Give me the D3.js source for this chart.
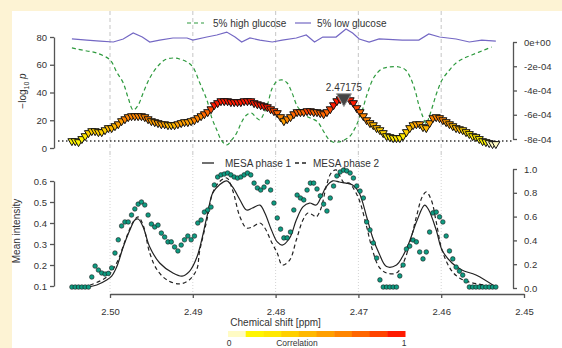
<!DOCTYPE html>
<html>
<head>
<meta charset="utf-8">
<script src="https://cdn.jsdelivr.net/npm/d3@7"></script>
<style>
  html, body { margin: 0; padding: 0; background: #fdf3d4; }
  svg { display: block; font-family: "Liberation Sans", Arial, sans-serif; }
  .tick text { fill: #333; font-size: 9.5px; }
</style>
</head>
<body>
<svg id="chart" width="562" height="348"></svg>
<script>
// spectrum samples, one every 0.0004 ppm
const ppmGrid = d3.range(129).map(i => 2.5046 - i * 0.0004);

// -log10 p for each sample (top panel triangles)
const logP = [
  4.3, 4.3, 3.6, 5.8, 7.9, 10.1, 11.5, 11.5, 10.8, 10.8,
  12.2, 13.7, 13.7, 15.1, 16.5, 18.7, 20.1, 21.6, 22.3, 22.3,
  22.3, 22.3, 21.6, 20.1, 18.7, 18.0, 17.3, 16.5, 16.5, 15.8,
  15.8, 15.8, 16.5, 17.3, 18.0, 18.0, 18.7, 19.4, 20.9, 22.3,
  23.7, 25.2, 27.3, 30.2, 31.7, 33.1, 33.1, 33.1, 32.4, 32.4,
  32.4, 32.4, 33.1, 33.1, 33.1, 31.7, 30.9, 30.2, 29.5, 28.8,
  27.3, 25.9, 24.5, 21.6, 18.7, 20.1, 21.6, 23.7, 25.2, 25.2,
  25.2, 25.9, 25.9, 25.2, 25.2, 24.5, 23.7, 25.2, 27.3, 30.2,
  33.1, 34.5, 35.3, 36.0, 33.8, 31.7, 28.1, 25.2, 22.3, 19.4,
  17.3, 15.8, 13.7, 12.2, 10.1, 7.9, 7.2, 6.5, 6.5, 6.5,
  7.9, 10.8, 13.7, 15.8, 16.5, 16.5, 14.4, 13.7, 17.3, 20.9,
  21.6, 20.9, 19.4, 18.0, 16.5, 15.1, 13.7, 12.9, 12.2, 10.8,
  9.4, 7.9, 7.2, 5.8, 4.3, 3.6, 2.9, 2.2, 2.2
];

// mean intensity for each sample (bottom panel points)
const meanIntensity = [
  0.095, 0.095, 0.095, 0.095, 0.095, 0.095, 0.143, 0.195, 0.176, 0.162,
  0.157, 0.160, 0.186, 0.257, 0.320, 0.386, 0.405, 0.405, 0.438, 0.467,
  0.490, 0.500, 0.486, 0.438, 0.395, 0.381, 0.390, 0.352, 0.333, 0.310,
  0.310, 0.286, 0.267, 0.295, 0.320, 0.338, 0.320, 0.338, 0.400, 0.414,
  0.452, 0.462, 0.476, 0.581, 0.619, 0.629, 0.633, 0.638, 0.629, 0.619,
  0.614, 0.619, 0.629, 0.638, 0.629, 0.590, 0.567, 0.557, 0.571, 0.595,
  0.557, 0.495, 0.424, 0.371, 0.329, 0.329, 0.357, 0.462, 0.533, 0.519,
  0.510, 0.557, 0.590, 0.590, 0.562, 0.529, 0.490, 0.457, 0.519, 0.576,
  0.624, 0.643, 0.652, 0.648, 0.638, 0.614, 0.576, 0.552, 0.519, 0.405,
  0.367, 0.305, 0.233, 0.129, 0.095, 0.095, 0.095, 0.095, 0.095, 0.148,
  0.200, 0.276, 0.290, 0.319, 0.310, 0.262, 0.229, 0.262, 0.357, 0.448,
  0.452, 0.429, 0.405, 0.338, 0.267, 0.229, 0.190, 0.171, 0.152, 0.124,
  0.095, 0.095, 0.095, 0.095, 0.095, 0.095, 0.095, 0.095, 0.095
];

// 5% high glucose coefficient (right axis, top)
const highPpm = [2.5046, 2.5040, 2.5028, 2.5016, 2.5000, 2.4992, 2.4984, 2.4978, 2.4972, 2.4966,
  2.4960, 2.4952, 2.4943, 2.4934, 2.4924, 2.4916, 2.4907, 2.4900, 2.4892, 2.4883,
  2.4877, 2.4871, 2.4865, 2.4859, 2.4853, 2.4847, 2.4841, 2.4835, 2.4829, 2.4824,
  2.4819, 2.4815, 2.4810, 2.4804, 2.4798, 2.4792, 2.4786, 2.4780, 2.4774, 2.4768,
  2.4761, 2.4755, 2.4749, 2.4743, 2.4737, 2.4731, 2.4724, 2.4717, 2.4710, 2.4704,
  2.4696, 2.4689, 2.4681, 2.4672, 2.4663, 2.4651, 2.4643, 2.4637, 2.4631, 2.4627,
  2.4622, 2.4618, 2.4615, 2.4610, 2.4605, 2.4599, 2.4590, 2.4582, 2.4572, 2.4563,
  2.4551, 2.4539];
const highGlucose = [-0.49e-4, -0.58e-4, -0.74e-4, -0.91e-4, -1.48e-4, -2.47e-4, -3.38e-4, -4.62e-4, -5.61e-4, -5.20e-4,
  -4.21e-4, -2.97e-4, -2.06e-4, -1.48e-4, -1.32e-4, -1.40e-4, -1.65e-4, -2.06e-4, -3.30e-4, -4.78e-4,
  -6.27e-4, -7.26e-4, -8.16e-4, -8.49e-4, -8.08e-4, -7.50e-4, -6.60e-4, -6.02e-4, -5.86e-4, -6.19e-4,
  -6.43e-4, -6.02e-4, -5.20e-4, -3.79e-4, -3.22e-4, -3.13e-4, -3.38e-4, -4.21e-4, -5.28e-4, -5.77e-4,
  -6.19e-4, -6.35e-4, -6.60e-4, -7.26e-4, -7.92e-4, -8.25e-4, -8.25e-4, -8.08e-4, -7.75e-4, -7.09e-4,
  -5.77e-4, -4.21e-4, -2.89e-4, -2.23e-4, -2.06e-4, -2.06e-4, -2.31e-4, -2.97e-4, -4.12e-4, -5.20e-4,
  -6.19e-4, -6.76e-4, -6.27e-4, -5.20e-4, -4.12e-4, -3.13e-4, -2.31e-4, -1.73e-4, -1.32e-4, -1.07e-4,
  -0.74e-4, -0.41e-4];

// 5% low glucose coefficient (right axis, top)
const lowPpm = [2.5046, 2.5028, 2.5012, 2.4996, 2.4984, 2.4972, 2.4961, 2.4952, 2.4940, 2.4924,
  2.4907, 2.4900, 2.4883, 2.4871, 2.4859, 2.4849, 2.4841, 2.4831, 2.4819, 2.4804,
  2.4792, 2.4775, 2.4763, 2.4753, 2.4743, 2.4727, 2.4715, 2.4707, 2.4699, 2.4687,
  2.4675, 2.4647, 2.4627, 2.4615, 2.4602, 2.4582, 2.4566, 2.4551, 2.4534];
const lowGlucose = [0.25e-4, 0.16e-4, 0.08e-4, 0, 0.25e-4, 0.74e-4, 0.41e-4, 0, 0.16e-4, 0.33e-4,
  0.33e-4, 0.16e-4, 0.41e-4, 0.58e-4, 0.82e-4, 0.41e-4, 0, 0.33e-4, 0.16e-4, 0,
  0.16e-4, 0.33e-4, 0.58e-4, 0, 0.41e-4, 0.41e-4, 1.07e-4, 0.74e-4, 0.25e-4, 0,
  0.25e-4, 0.16e-4, 0.16e-4, 0.66e-4, 0.41e-4, 0.25e-4, 0, 0.16e-4, 0.08e-4];

// MESA phase 1 / 2 spectra (right axis, bottom)
const mesa1Ppm = [2.5027, 2.5016, 2.5004, 2.4998, 2.4992, 2.4984, 2.4976, 2.4970, 2.4966, 2.4960,
  2.4952, 2.4940, 2.4924, 2.4913, 2.4904, 2.4895, 2.4883, 2.4876, 2.4868, 2.4859,
  2.4852, 2.4843, 2.4835, 2.4828, 2.4819, 2.4813, 2.4805, 2.4798, 2.4792, 2.4783,
  2.4775, 2.4767, 2.4759, 2.4751, 2.4745, 2.4739, 2.4731, 2.4723, 2.4715, 2.4707,
  2.4699, 2.4690, 2.4683, 2.4675, 2.4666, 2.4654, 2.4647, 2.4639, 2.4629, 2.4620,
  2.4615, 2.4606, 2.4599, 2.4587, 2.4575, 2.4558, 2.4534];
const mesa1 = [0.008, 0.025, 0.067, 0.10, 0.176, 0.345, 0.487, 0.571, 0.58, 0.513,
  0.345, 0.21, 0.126, 0.10, 0.14, 0.26, 0.597, 0.798, 0.866, 0.90,
  0.849, 0.74, 0.655, 0.672, 0.697, 0.63, 0.487, 0.387, 0.361, 0.42,
  0.571, 0.681, 0.714, 0.697, 0.765, 0.849, 0.90, 0.891, 0.882, 0.866,
  0.798, 0.597, 0.429, 0.29, 0.18, 0.193, 0.26, 0.378, 0.571, 0.697,
  0.655, 0.487, 0.319, 0.21, 0.151, 0.109, 0.008];
const mesa2Ppm = [2.5024, 2.5004, 2.4992, 2.4980, 2.4972, 2.4966, 2.4960, 2.4952, 2.4943, 2.4931,
  2.4916, 2.4904, 2.4895, 2.4892, 2.4883, 2.4876, 2.4868, 2.4859, 2.4852, 2.4843,
  2.4835, 2.4828, 2.4819, 2.4813, 2.4805, 2.4798, 2.4792, 2.4783, 2.4775, 2.4767,
  2.4761, 2.4755, 2.4751, 2.4745, 2.4739, 2.4733, 2.4727, 2.4723, 2.4717, 2.4711,
  2.4707, 2.4699, 2.4690, 2.4683, 2.4675, 2.4666, 2.4654, 2.4647, 2.4639, 2.4630,
  2.4623, 2.4618, 2.4612, 2.4606, 2.4599, 2.4588, 2.4578, 2.4566, 2.4534];
const mesa2 = [0.025, 0.092, 0.21, 0.429, 0.555, 0.597, 0.529, 0.294, 0.151, 0.067,
  0.034, 0.07, 0.16, 0.30, 0.571, 0.798, 0.891, 0.924, 0.824, 0.597,
  0.504, 0.513, 0.546, 0.504, 0.387, 0.294, 0.193, 0.235, 0.403, 0.571,
  0.63, 0.613, 0.597, 0.672, 0.849, 0.966, 0.992, 0.95, 0.882, 0.882,
  0.849, 0.74, 0.513, 0.319, 0.176, 0.126, 0.126, 0.193, 0.345, 0.597,
  0.765, 0.807, 0.74, 0.555, 0.319, 0.151, 0.084, 0.05, 0.008];

const xTicks = [2.50, 2.49, 2.48, 2.47, 2.46, 2.45];
const pTicks = [0, 20, 40, 60, 80];
const coefTicks = [0, -2e-4, -4e-4, -6e-4, -8e-4];
const coefLabels = ["0e+00", "-2e-04", "-4e-04", "-6e-04", "-8e-04"];
const meanTicks = [0.1, 0.2, 0.3, 0.4, 0.5, 0.6];
const mesaTicks = [0, 0.2, 0.4, 0.6, 0.8, 1.0];
const corrColors = ["#fffbc4", "#fff500", "#ffe800", "#ffd000", "#ffb800",
                    "#ff9f00", "#ff8500", "#ff6600", "#ff4400", "#ff1a00"];
const peakPpm = 2.47175;
const pThreshold = 5;

const svg = d3.select("#chart");

// white plotting sheet over the cream page
svg.append("rect").attr("x", 12).attr("y", 11).attr("width", 550).attr("height", 337).attr("fill", "#fff");

// scales
const x = d3.scaleLinear().domain([2.50, 2.45]).range([110, 524]);
const yP = d3.scaleLinear().domain([0, 80]).range([148, 37]);
const yCoef = d3.scaleLinear().domain([-8e-4, 0]).range([139, 42]);
const yMean = d3.scaleLinear().domain([0.1, 0.6]).range([286, 181]);
const yMesa = d3.scaleLinear().domain([0, 1]).range([288, 169]);
const color = d3.scaleQuantize().domain([0, 32]).range(corrColors);

// vertical guides
svg.append("g").selectAll("line").data(xTicks.slice(0, 5)).join("line")
    .attr("x1", d => x(d)).attr("x2", d => x(d))
    .attr("y1", 11).attr("y2", 156)
    .attr("stroke", "#cfcfcf").attr("stroke-width", 1.2).attr("stroke-dasharray", "4,3");
svg.append("g").selectAll("line").data(xTicks.slice(0, 5)).join("line")
    .attr("x1", d => x(d)).attr("x2", d => x(d))
    .attr("y1", 156).attr("y2", 292)
    .attr("stroke", "#d4d4d4").attr("stroke-width", 1).attr("stroke-dasharray", "1,2");

function styleAxis(g) {
  g.attr("font-family", null).attr("font-size", null);
  g.selectAll(".domain, .tick line").attr("stroke", "#555").attr("stroke-width", 1.3);
}

// ---------- top panel ----------
svg.append("g").attr("transform", "translate(54,0)")
    .call(d3.axisLeft(yP).tickValues(pTicks).tickSize(4).tickSizeOuter(0).tickPadding(3))
    .call(styleAxis);
svg.append("g").attr("transform", "translate(513,0)")
    .call(d3.axisRight(yCoef).tickValues(coefTicks).tickSize(4).tickSizeOuter(0).tickPadding(7)
      .tickFormat((d, i) => coefLabels[i]))
    .call(styleAxis);

const yLab = svg.append("text")
    .attr("transform", "translate(26,91) rotate(-90)")
    .attr("text-anchor", "middle").attr("fill", "#333").attr("font-size", 10);
yLab.append("tspan").text("\u2212log");
yLab.append("tspan").attr("font-size", 7).attr("dy", 2.5).text("10");
yLab.append("tspan").attr("dy", -2.5).attr("font-style", "italic").text(" p");

// significance threshold
svg.append("line")
    .attr("x1", 58).attr("x2", 513).attr("y1", yP(pThreshold)).attr("y2", yP(pThreshold))
    .attr("stroke", "#333").attr("stroke-width", 1.4).attr("stroke-dasharray", "1.5,2.5");

const lowLine = d3.line().x(d => x(d[0])).y(d => yCoef(d[1]));
const smoothLine = d3.line().x(d => x(d[0])).y(d => yCoef(d[1])).curve(d3.curveCatmullRom);

svg.append("path")
    .datum(d3.zip(lowPpm, lowGlucose))
    .attr("d", lowLine)
    .attr("fill", "none").attr("stroke", "#7468c4").attr("stroke-width", 1.2);

svg.append("path")
    .datum(d3.zip(highPpm, highGlucose))
    .attr("d", smoothLine)
    .attr("fill", "none").attr("stroke", "#2e9a3e").attr("stroke-width", 1.2)
    .attr("stroke-dasharray", "4,3");

// correlation triangles
const tri = d3.symbol().type(d3.symbolTriangle).size(28);
svg.append("g").selectAll("path").data(d3.zip(ppmGrid, logP)).join("path")
    .attr("d", tri)
    .attr("transform", d => `translate(${x(d[0])},${yP(d[1]) - 1}) rotate(180)`)
    .attr("fill", d => color(d[1]))
    .attr("stroke", "#111").attr("stroke-width", 1);

// highlighted peak
const peakIdx = d3.minIndex(ppmGrid, p => Math.abs(p - peakPpm));
svg.append("path")
    .attr("d", d3.symbol().type(d3.symbolTriangle).size(95))
    .attr("transform", `translate(${x(peakPpm)},${yP(logP[peakIdx]) - 1}) rotate(180)`)
    .attr("fill", "#444").attr("stroke", "#999").attr("stroke-width", 1);
svg.append("text")
    .attr("x", x(peakPpm)).attr("y", yP(logP[peakIdx]) - 8)
    .attr("text-anchor", "middle").attr("fill", "#333").attr("font-size", 10)
    .text(peakPpm);

// top legend
svg.append("line").attr("x1", 187).attr("x2", 204).attr("y1", 23).attr("y2", 23)
    .attr("stroke", "#2e9a3e").attr("stroke-width", 1.2).attr("stroke-dasharray", "4,3");
svg.append("text").attr("x", 213).attr("y", 26.5).attr("fill", "#333").attr("font-size", 10)
    .text("5% high glucose");
svg.append("line").attr("x1", 295).attr("x2", 311).attr("y1", 23).attr("y2", 23)
    .attr("stroke", "#7468c4").attr("stroke-width", 1.2);
svg.append("text").attr("x", 317).attr("y", 26.5).attr("fill", "#333").attr("font-size", 10)
    .text("5% low glucose");

// ---------- bottom panel ----------
svg.append("g").attr("transform", "translate(54,0)")
    .call(d3.axisLeft(yMean).tickValues(meanTicks).tickSize(4).tickSizeOuter(0).tickPadding(3)
      .tickFormat(d3.format(".1f")))
    .call(styleAxis);
svg.append("g").attr("transform", "translate(513,0)")
    .call(d3.axisRight(yMesa).tickValues(mesaTicks).tickSize(4).tickSizeOuter(0).tickPadding(7)
      .tickFormat(d3.format(".1f")))
    .call(styleAxis);
svg.append("g").attr("transform", "translate(0,294)")
    .call(d3.axisBottom(x).tickValues(xTicks).tickSize(4).tickSizeOuter(0).tickPadding(10)
      .tickFormat(d3.format(".2f")))
    .call(styleAxis);

svg.append("text")
    .attr("transform", "translate(20,231) rotate(-90)")
    .attr("text-anchor", "middle").attr("fill", "#333").attr("font-size", 10)
    .text("Mean intensity");
svg.append("text")
    .attr("x", x(2.48)).attr("y", 326)
    .attr("text-anchor", "middle").attr("fill", "#333").attr("font-size", 10)
    .text("Chemical shift [ppm]");

const mesaLine = d3.line().x(d => x(d[0])).y(d => yMesa(d[1])).curve(d3.curveCatmullRom);
svg.append("path")
    .datum(d3.zip(mesa1Ppm, mesa1))
    .attr("d", mesaLine)
    .attr("fill", "none").attr("stroke", "#222").attr("stroke-width", 1.2);
svg.append("path")
    .datum(d3.zip(mesa2Ppm, mesa2))
    .attr("d", mesaLine)
    .attr("fill", "none").attr("stroke", "#222").attr("stroke-width", 1.2)
    .attr("stroke-dasharray", "4,3");

svg.append("g").selectAll("circle").data(d3.zip(ppmGrid, meanIntensity)).join("circle")
    .attr("cx", d => x(d[0])).attr("cy", d => yMean(d[1]))
    .attr("r", 2.3)
    .attr("fill", "#0e9c82").attr("stroke", "#1a1a1a").attr("stroke-width", 0.6);

// bottom legend
svg.append("line").attr("x1", 202).attr("x2", 214).attr("y1", 163).attr("y2", 163)
    .attr("stroke", "#222").attr("stroke-width", 1.3);
svg.append("text").attr("x", 225).attr("y", 166.5).attr("fill", "#333").attr("font-size", 10)
    .text("MESA phase 1");
svg.append("line").attr("x1", 295).attr("x2", 309).attr("y1", 163).attr("y2", 163)
    .attr("stroke", "#222").attr("stroke-width", 1.3).attr("stroke-dasharray", "4,3");
svg.append("text").attr("x", 313).attr("y", 166.5).attr("fill", "#333").attr("font-size", 10)
    .text("MESA phase 2");

// correlation colour bar
const band = d3.scaleBand().domain(d3.range(corrColors.length)).range([228, 405]);
svg.append("g").selectAll("rect").data(corrColors).join("rect")
    .attr("x", (d, i) => band(i)).attr("y", 331)
    .attr("width", band.bandwidth() + 0.5).attr("height", 6)
    .attr("fill", d => d);
svg.append("text").attr("x", 229).attr("y", 346).attr("text-anchor", "middle")
    .attr("fill", "#333").attr("font-size", 8.5).text("0");
svg.append("text").attr("x", 404).attr("y", 346).attr("text-anchor", "middle")
    .attr("fill", "#333").attr("font-size", 8.5).text("1");
svg.append("text").attr("x", 297).attr("y", 346).attr("text-anchor", "middle")
    .attr("fill", "#333").attr("font-size", 8.5).text("Correlation");
</script>
</body>
</html>
